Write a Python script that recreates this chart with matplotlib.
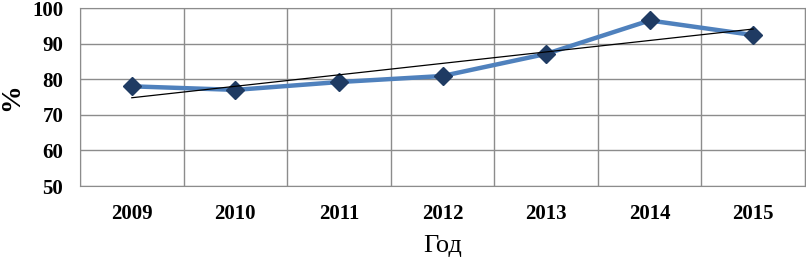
import numpy as np
import matplotlib.pyplot as plt

### DATA ###
years = ['2009', '2010', '2011', '2012', '2013', '2014', '2015']
values = [78.0, 77.0, 79.2, 80.9, 87.1, 96.5, 92.4]

plt.rcParams['font.family'] = ['Liberation Serif', 'DejaVu Serif']

fig = plt.figure(figsize=(8.06, 2.58), dpi=100)
ax = fig.add_axes([80/806, 72/258, 725/806, 178/258])

x = np.arange(len(years))
ax.plot(x, values, color='#4f81bd', lw=3.2, marker='D', ms=9,
	mfc='#1f3b63', mec='#1f3b63', zorder=3)

# linear trend
k, b = np.polyfit(x, values, 1)
ax.plot(x, k*x + b, color='black', lw=0.9, zorder=4)

ax.set_xlim(-0.5, len(years) - 0.5)
ax.set_ylim(50, 100)
ax.set_yticks(np.arange(50, 101, 10))
ax.set_xticks(x)
ax.set_xticklabels(years)
ax.set_xticks(np.arange(-0.5, len(years), 1), minor=True)
ax.grid(True, which='major', axis='y', color='#8c8c8c', lw=1)
ax.grid(True, which='minor', axis='x', color='#8c8c8c', lw=1)
ax.set_axisbelow(True)
for s in ax.spines.values():
	s.set_color('#8c8c8c')
ax.tick_params(which='both', length=0)
ax.tick_params(axis='y', pad=12, labelsize=15)
ax.tick_params(axis='x', pad=13, labelsize=15)
for t in ax.get_xticklabels() + ax.get_yticklabels():
	t.set_fontweight('bold')

ax.set_ylabel('%', fontsize=20, fontweight='bold', labelpad=6)
ax.set_xlabel('Год', fontsize=19, labelpad=8)

fig.savefig('out.png', dpi=100)
